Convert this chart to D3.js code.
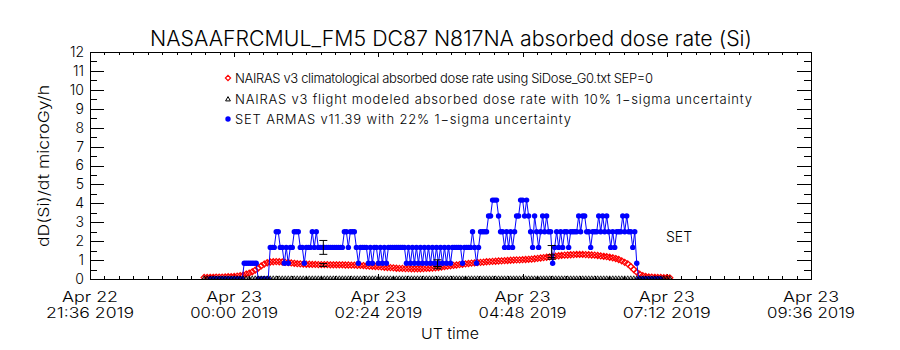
<!DOCTYPE html>
<html><head><meta charset="utf-8">
<script src="https://cdn.jsdelivr.net/npm/d3@7"></script>
<style>
body{margin:0;background:#fff}
svg{display:block}
text{font-family:"Inter","Lato","Liberation Sans",Arial,sans-serif;font-weight:300;fill:#000}
</style>
</head><body>
<svg id="chart" width="900" height="350"></svg>
<script>
// ---------------- data ----------------
const chartTitle = "NASAAFRCMUL_FM5 DC87 N817NA absorbed dose rate (Si)";
const yLabel = "dD(Si)/dt microGy/h";
const xLabel = "UT time";
const yTicks = [0,1,2,3,4,5,6,7,8,9,10,11,12];
const xDomain = ["2019-04-22T21:36:00Z","2019-04-23T09:36:00Z"];
const xTickDates = ["2019-04-22T21:36:00Z","2019-04-23T00:00:00Z","2019-04-23T02:24:00Z","2019-04-23T04:48:00Z","2019-04-23T07:12:00Z","2019-04-23T09:36:00Z"];
const xTickLine1 = ["Apr 22","Apr 23","Apr 23","Apr 23","Apr 23","Apr 23"];
const xTickLine2 = ["21:36 2019","00:00 2019","02:24 2019","04:48 2019","07:12 2019","09:36 2019"];
const legendLabels = [
  "NAIRAS v3 climatological absorbed dose rate using SiDose_G0.txt SEP=0",
  "NAIRAS v3 flight modeled absorbed dose rate with 10% 1\u2212sigma uncertainty",
  "SET ARMAS v11.39 with 22% 1\u2212sigma uncertainty"
];
const seriesTag = "SET";

// NAIRAS series: start time and step (minutes)
const modelStart = "2019-04-22T23:30:00Z";
const modelStepMin = 3;
const climValues = [0.08,0.08,0.09,0.09,0.10,0.10,0.10,0.11,0.12,0.12,0.13,0.15,0.17,0.20,0.26,0.31,0.38,0.47,0.58,0.69,
0.79,0.86,0.90,0.91,0.92,0.91,0.90,0.88,0.87,0.85,0.83,0.81,0.80,0.79,0.78,0.78,0.77,0.77,0.76,0.76,
0.76,0.76,0.75,0.75,0.75,0.75,0.75,0.74,0.74,0.73,0.73,0.72,0.72,0.71,0.69,0.68,0.67,0.66,0.65,0.64,
0.62,0.61,0.60,0.59,0.57,0.56,0.56,0.55,0.55,0.54,0.54,0.54,0.54,0.55,0.56,0.57,0.58,0.59,0.61,0.63,
0.66,0.68,0.70,0.72,0.74,0.76,0.78,0.80,0.82,0.84,0.85,0.87,0.88,0.89,0.91,0.92,0.93,0.94,0.95,0.96,
0.97,0.98,0.99,1.00,1.01,1.01,1.02,1.03,1.04,1.05,1.07,1.09,1.11,1.13,1.15,1.17,1.19,1.21,1.23,1.25,
1.26,1.27,1.28,1.29,1.30,1.30,1.30,1.29,1.28,1.27,1.26,1.24,1.22,1.20,1.18,1.15,1.12,1.08,1.03,0.96,
0.88,0.80,0.66,0.50,0.36,0.25,0.18,0.13,0.11,0.10,0.09,0.08,0.08,0.07,0.07,0.06];
const flightValues = [0.02,0.02,0.02,0.02,0.02,0.02,0.02,0.02,0.02,0.02,0.02,0.02,0.02,0.02,0.02,0.02,0.02,0.02,0.02,0.02,
0.02,0.02,0.02,0.02,0.02,0.02,0.02,0.02,0.02,0.02,0.02,0.02,0.02,0.02,0.02,0.02,0.02,0.02,0.02,0.02,
0.02,0.02,0.02,0.02,0.02,0.02,0.02,0.02,0.02,0.02,0.02,0.02,0.02,0.02,0.02,0.02,0.02,0.02,0.02,0.02,
0.02,0.02,0.02,0.02,0.02,0.02,0.02,0.02,0.02,0.02,0.02,0.02,0.02,0.02,0.02,0.02,0.02,0.02,0.02,0.02,
0.02,0.02,0.02,0.02,0.02,0.02,0.02,0.02,0.02,0.02,0.02,0.02,0.02,0.02,0.02,0.02,0.02,0.02,0.02,0.02,
0.02,0.02,0.02,0.02,0.02,0.02,0.02,0.02,0.02,0.02,0.02,0.02,0.02,0.02,0.02,0.02,0.02,0.02,0.02,0.02,
0.02,0.02,0.02,0.02,0.02,0.02,0.02,0.02,0.02,0.02,0.02,0.02,0.02,0.02,0.02,0.02,0.02,0.02,0.02,0.02,
0.02,0.02,0.02,0.02,0.02,0.02,0.02,0.02,0.02,0.02,0.02,0.02,0.02,0.02,0.02,0.02];

// SET ARMAS series
const setStart = "2019-04-22T23:36:00Z";
const setStepMin = 2;
const setValues = [0,0,0,0,0,0,0,0,0,0,0,0,0,0,0,0,0,0.83,0.83,0.83,
0.83,0.83,0.83,0.83,0,0,0,0,0,0,1.67,1.67,1.67,2.5,2.5,1.67,1.67,0.83,1.67,0.83,
1.67,1.67,2.5,2.5,2.5,1.67,1.67,0.83,1.67,1.67,1.67,2.5,1.67,2.5,1.67,1.67,1.67,1.67,1.67,1.67,
1.67,1.67,1.67,1.67,1.67,1.67,1.67,2.5,2.5,1.67,2.5,2.5,2.5,1.67,0.83,1.67,1.67,1.67,1.67,0.83,
1.67,0.83,1.67,1.67,0.83,1.67,0.83,1.67,0.83,1.67,1.67,1.67,1.67,1.67,1.67,1.67,1.67,1.67,0.83,1.67,
0.83,1.67,0.83,1.67,0.83,1.67,0.83,1.67,0.83,1.67,0.83,1.67,0.83,1.67,0.83,1.67,0.83,1.67,0.83,1.67,
0.83,1.67,1.67,1.67,1.67,1.67,0.83,1.67,1.67,1.67,1.67,2.5,1.67,0.83,1.67,2.5,2.5,2.5,2.5,3.33,
3.33,4.17,4.17,4.17,3.33,2.5,2.5,1.67,2.5,1.67,2.5,1.67,2.5,3.33,3.33,4.17,4.17,3.33,4.17,3.33,
2.5,1.67,3.33,2.5,1.67,2.5,3.33,2.5,3.33,2.5,2.5,0.83,1.67,2.5,1.67,2.5,1.67,2.5,2.5,1.67,
2.5,2.5,2.5,2.5,3.33,2.5,3.33,3.33,2.5,2.5,1.67,2.5,2.5,2.5,3.33,2.5,3.33,2.5,3.33,2.5,
1.67,2.5,1.67,2.5,2.5,2.5,3.33,2.5,3.33,2.5,2.5,1.67,2.5,0.83,0,0,0,0,0,0,
0,0,0,0,0,0];

// uncertainty bars
const errTimes = ["2019-04-23T01:29:00Z","2019-04-23T03:23:00Z","2019-04-23T05:17:00Z"];
const setErrMean = [1.67,0.83,1.45];
const flightErrMean = [0.74,0.60,1.16];
const setSigma = 0.22, flightSigma = 0.10;

// ---------------- drawing ----------------
const svg = d3.select("#chart");
const L = 90, R = 811, T = 52, B = 279;
const x = d3.scaleUtc().domain(xDomain.map(d => new Date(d))).range([L, R]);
const y = d3.scaleLinear().domain([0, 12]).range([B, T]);

const minute = 60000;
const modelT = climValues.map((_, i) => new Date(+new Date(modelStart) + i * modelStepMin * minute));
const setT = setValues.map((_, i) => new Date(+new Date(setStart) + i * setStepMin * minute));

svg.append("defs").append("clipPath").attr("id", "plotclip")
  .append("rect").attr("x", L).attr("y", T).attr("width", R - L).attr("height", B - T + 0.5);

// title
svg.append("text").attr("x", 451).attr("y", 46).attr("text-anchor", "middle")
  .attr("font-size", 21).attr("textLength", 602).attr("lengthAdjust", "spacingAndGlyphs").text(chartTitle);

// y axes
const yMinor = d3.range(0.5, 12, 1);
const gl = svg.append("g").attr("transform", `translate(${L},0)`)
  .call(d3.axisLeft(y).tickValues(yTicks).tickSizeInner(-14).tickSizeOuter(0).tickPadding(6).tickFormat(d3.format("d")));
gl.select(".domain").remove();
gl.selectAll("text").attr("font-size", 14).attr("font-family", null);
gl.selectAll("line").attr("shape-rendering", "crispEdges");
const glm = svg.append("g").attr("transform", `translate(${L},0)`)
  .call(d3.axisLeft(y).tickValues(yMinor).tickSizeInner(-7).tickSizeOuter(0).tickFormat(""));
glm.select(".domain").remove(); glm.selectAll("line").attr("shape-rendering", "crispEdges");
const gr = svg.append("g").attr("transform", `translate(${R},0)`)
  .call(d3.axisRight(y).tickValues(yTicks).tickSizeInner(-14).tickSizeOuter(0).tickFormat(""));
gr.select(".domain").remove(); gr.selectAll("line").attr("shape-rendering", "crispEdges");
const grm = svg.append("g").attr("transform", `translate(${R},0)`)
  .call(d3.axisRight(y).tickValues(yMinor).tickSizeInner(-7).tickSizeOuter(0).tickFormat(""));
grm.select(".domain").remove(); grm.selectAll("line").attr("shape-rendering", "crispEdges");

// x axes
const majorDates = xTickDates.map(d => new Date(d));
const minorDates = [];
for (let i = 0; i < majorDates.length - 1; i++) {
  for (let k = 1; k < 10; k++) minorDates.push(new Date(+majorDates[i] + k * 14.4 * minute));
}
function xAxisPair(pos) {
  const mk = pos === B ? d3.axisBottom : d3.axisTop;
  const g1 = svg.append("g").attr("transform", `translate(0,${pos})`)
    .call(mk(x).tickValues(majorDates).tickSizeInner(-5).tickSizeOuter(0).tickFormat(""));
  g1.select(".domain").remove(); g1.selectAll("line").attr("shape-rendering", "crispEdges");
  const g2 = svg.append("g").attr("transform", `translate(0,${pos})`)
    .call(mk(x).tickValues(minorDates).tickSizeInner(-3).tickSizeOuter(0).tickFormat(""));
  g2.select(".domain").remove(); g2.selectAll("line").attr("shape-rendering", "crispEdges");
}
xAxisPair(B); xAxisPair(T);

// x tick labels (two lines)
majorDates.forEach((d, i) => {
  svg.append("text").attr("x", x(d)).attr("y", 302).attr("text-anchor", "middle").attr("font-size", 14)
    .attr("textLength", 56).attr("lengthAdjust", "spacingAndGlyphs").text(xTickLine1[i]);
  svg.append("text").attr("x", x(d)).attr("y", 318).attr("text-anchor", "middle").attr("font-size", 14)
    .attr("textLength", 88).attr("lengthAdjust", "spacingAndGlyphs").text(xTickLine2[i]);
});
svg.append("text").attr("x", 450).attr("y", 339).attr("text-anchor", "middle").attr("font-size", 15)
  .attr("textLength", 58).attr("lengthAdjust", "spacingAndGlyphs").text(xLabel);
svg.append("text").attr("transform", "translate(49,166) rotate(-90)").attr("text-anchor", "middle")
  .attr("font-size", 15).attr("textLength", 162).attr("lengthAdjust", "spacingAndGlyphs").text(yLabel);

// symbols
const diamond = r => `M0,${-r}L${r},0L0,${r}L${-r},0Z`;
const triangle = r => `M0,${-r}L${r},${r * 0.8}L${-r},${r * 0.8}Z`;

const plot = svg.append("g").attr("clip-path", "url(#plotclip)");
// NAIRAS climatological: red diamonds
plot.append("g").selectAll("path").data(climValues).join("path")
  .attr("transform", (v, i) => `translate(${x(modelT[i])},${y(v)})`)
  .attr("d", diamond(3)).attr("fill", "none").attr("stroke", "#ff0000").attr("stroke-width", 1.3);
// SET ARMAS blue
plot.append("path").datum(setValues)
  .attr("d", d3.line().x((v, i) => x(setT[i])).y(v => y(v)))
  .attr("fill", "none").attr("stroke", "#0000ff").attr("stroke-width", 1);
plot.append("g").selectAll("circle").data(setValues).join("circle")
  .attr("cx", (v, i) => x(setT[i])).attr("cy", v => y(v)).attr("r", 2.7).attr("fill", "#0000ff");
// NAIRAS flight: black triangles
plot.append("g").selectAll("path").data(flightValues).join("path")
  .attr("transform", (v, i) => `translate(${x(modelT[i])},${y(v) - 1})`)
  .attr("d", triangle(1.8)).attr("fill", "none").attr("stroke", "#000").attr("stroke-width", 0.9);

// error bars
function errBar(t, m, s) {
  const cx = x(new Date(t)), y0 = y(m * (1 - s)), y1 = y(m * (1 + s));
  const g = plot.append("g").attr("stroke", "#000").attr("stroke-width", 1);
  g.append("line").attr("x1", cx).attr("x2", cx).attr("y1", y0).attr("y2", y1);
  g.append("line").attr("x1", cx - 4).attr("x2", cx + 4).attr("y1", y0).attr("y2", y0);
  g.append("line").attr("x1", cx - 4).attr("x2", cx + 4).attr("y1", y1).attr("y2", y1);
}
errTimes.forEach((t, i) => { errBar(t, flightErrMean[i], flightSigma); errBar(t, setErrMean[i], setSigma); });

// frame (drawn over the clipped plot)
svg.append("rect").attr("x", L).attr("y", T).attr("width", R - L).attr("height", B - T)
  .attr("fill", "none").attr("stroke", "#000").attr("stroke-width", 1).attr("shape-rendering", "crispEdges");

// series tag
svg.append("text").attr("x", 666).attr("y", 242).attr("font-size", 14).text(seriesTag);

// legend
const legY = [78, 99, 119];
const legW = [418, 517, 336];
const lg = svg.append("g");
lg.append("path").attr("transform", `translate(228,${legY[0]})`).attr("d", diamond(2.6)).attr("fill", "none").attr("stroke", "#ff0000").attr("stroke-width", 1.2);
lg.append("path").attr("transform", `translate(228,${legY[1]})`).attr("d", triangle(2.4)).attr("fill", "none").attr("stroke", "#000");
lg.append("circle").attr("cx", 228).attr("cy", legY[2]).attr("r", 2.7).attr("fill", "#0000ff");
legendLabels.forEach((t, i) => {
  lg.append("text").attr("x", 235).attr("y", legY[i] + 5).attr("font-size", 13)
    .attr("textLength", legW[i]).attr("lengthAdjust", "spacing").text(t);
});
</script>
</body></html>
